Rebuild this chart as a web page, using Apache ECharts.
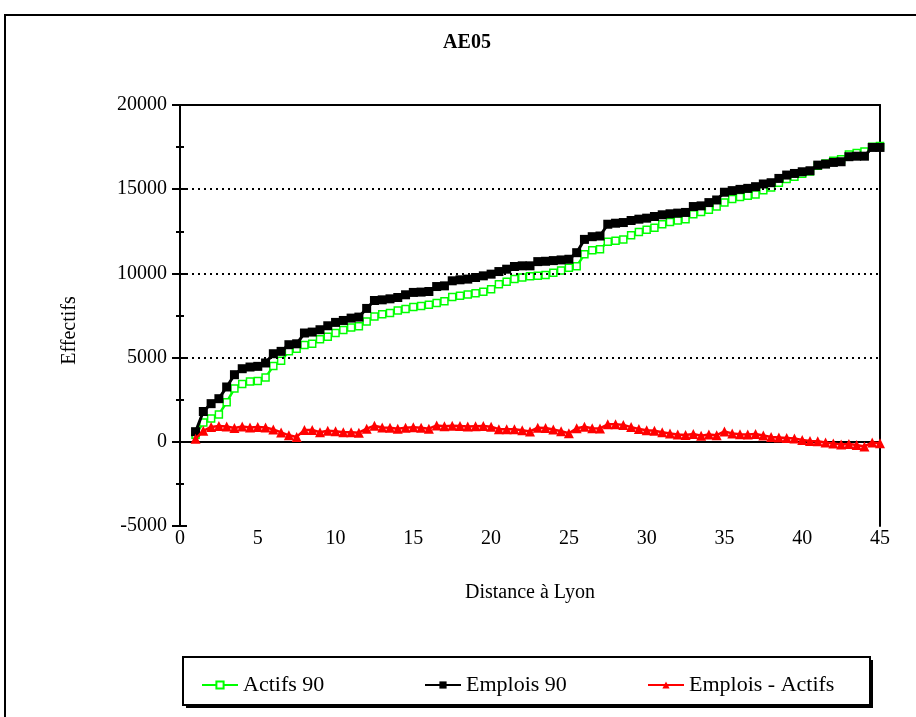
<!DOCTYPE html>
<html>
<head>
<meta charset="utf-8">
<title>AE05</title>
<script src="https://cdn.jsdelivr.net/npm/echarts@6/dist/echarts.min.js"></script>
<style>
  html, body { margin: 0; padding: 0; background: #fff; }
  #chart { width: 916px; height: 717px; }
</style>
</head>
<body>
<div id="chart"></div>
<script>
// Distance à Lyon (km), one point every half kilometre
const distances = [
  1, 1.5, 2, 2.5, 3, 3.5, 4, 4.5, 5, 5.5, 6, 6.5, 7, 7.5, 8, 8.5, 9, 9.5, 10, 10.5,
  11, 11.5, 12, 12.5, 13, 13.5, 14, 14.5, 15, 15.5, 16, 16.5, 17, 17.5, 18, 18.5, 19, 19.5, 20, 20.5,
  21, 21.5, 22, 22.5, 23, 23.5, 24, 24.5, 25, 25.5, 26, 26.5, 27, 27.5, 28, 28.5, 29, 29.5, 30, 30.5,
  31, 31.5, 32, 32.5, 33, 33.5, 34, 34.5, 35, 35.5, 36, 36.5, 37, 37.5, 38, 38.5, 39, 39.5, 40, 40.5,
  41, 41.5, 42, 42.5, 43, 43.5, 44, 44.5, 45
];

// Cumulative working residents (Actifs 90)
const actifs90 = [
  415, 1148, 1381, 1627, 2350, 3160, 3435, 3585, 3605, 3825, 4495, 4812, 5382, 5530, 5752, 5818, 6092, 6235, 6465, 6642,
  6785, 6862, 7142, 7438, 7575, 7650, 7790, 7890, 8000, 8058, 8145, 8248, 8340, 8600, 8678, 8748, 8825, 8915, 9065, 9360,
  9510, 9668, 9758, 9838, 9865, 9898, 10035, 10170, 10332, 10428, 11130, 11378, 11428, 11885, 11945, 12015, 12268, 12458, 12598, 12718,
  12915, 13046, 13146, 13216, 13512, 13651, 13774, 13970, 14206, 14415, 14539, 14612, 14690, 14938, 15102, 15380, 15608, 15738, 15922, 16050,
  16395, 16525, 16690, 16783, 17063, 17148, 17238, 17520, 17560
];

// Cumulative jobs (Emplois 90)
const emplois90 = [
  600, 1800, 2265, 2560, 3255, 3985, 4340, 4440, 4480, 4680, 5230, 5370, 5765, 5820, 6460, 6515, 6655, 6890, 7090, 7205,
  7345, 7405, 7920, 8390, 8430, 8490, 8570, 8730, 8870, 8890, 8925, 9220, 9260, 9560, 9620, 9660, 9755, 9855, 9955, 10110,
  10250, 10410, 10450, 10450, 10700, 10720, 10760, 10800, 10840, 11230, 12020, 12180, 12220, 12920, 12980, 13020, 13140, 13220, 13280, 13380,
  13480, 13540, 13580, 13620, 13970, 14010, 14205, 14360, 14820, 14915, 14990, 15050, 15150, 15310, 15385, 15640, 15840, 15935, 16035, 16095,
  16430, 16490, 16590, 16630, 16930, 16960, 16960, 17480, 17480
];

// Jobs minus working residents (Emplois - Actifs)
const emploisMoinsActifs = [
  185, 652, 884, 933, 905, 825, 905, 855, 875, 855, 735, 558, 383, 290, 708, 697, 563, 655, 625, 563,
  560, 543, 778, 952, 855, 840, 780, 840, 870, 832, 780, 972, 920, 960, 942, 912, 930, 940, 890, 750,
  740, 742, 692, 612, 835, 822, 725, 630, 508, 802, 890, 802, 792, 1035, 1035, 1005, 872, 762, 682, 662,
  565, 494, 434, 404, 458, 359, 431, 390, 614, 500, 451, 438, 460, 372, 283, 260, 232, 197, 113, 45,
  35, -35, -100, -153, -133, -188, -278, -40, -80
];

const seriesNames = ['Actifs 90', 'Emplois 90', 'Emplois - Actifs'];
const yTicks = { min: -5000, max: 20000, step: 5000 };
const xTicks = { min: 0, max: 45, step: 5 };
// Dotted horizontal guides drawn inside the plot
const dottedGuides = [5000, 10000, 15000];

const FONT = '"Liberation Serif", "Times New Roman", serif';

function pairs(values) {
  return distances.map((d, i) => [d, values[i]]);
}

const chart = echarts.init(document.getElementById('chart'), null, { renderer: 'canvas' });

const legendText = { fontFamily: FONT, fontSize: 22, color: '#000' };
function legendAt(name, left) {
  return {
    data: [name], left: left, top: 669, orient: 'horizontal',
    itemWidth: 36, itemHeight: 9, itemGap: 0, textStyle: legendText,
    selectedMode: false, z: 10
  };
}

const plainNumber = v => String(v);
const frameLine = { show: true, onZero: false, lineStyle: { color: '#000', width: 2 } };

chart.setOption({
  animation: false,
  backgroundColor: '#fff',
  grid: { left: 180, top: 105, width: 700, height: 421, containLabel: false },
  graphic: [
    { type: 'rect', z: 0, shape: { x: 5, y: 15, width: 1000, height: 1000 },
      style: { fill: 'none', stroke: '#000', lineWidth: 2 } },
    { type: 'text', z: 5, x: 467, y: 43,
      style: { text: 'AE05', font: 'bold 20px ' + FONT, fill: '#000', textAlign: 'center', textVerticalAlign: 'middle' } },
    // legend frame: offset shadow block, then the framed box
    { type: 'rect', z: 1, shape: { x: 186, y: 660, width: 687, height: 48 },
      style: { fill: '#000', stroke: 'none' } },
    { type: 'rect', z: 2, shape: { x: 183, y: 657, width: 687, height: 48 },
      style: { fill: '#fff', stroke: '#000', lineWidth: 2 } }
  ],
  legend: [
    legendAt(seriesNames[0], 196),
    legendAt(seriesNames[1], 419),
    legendAt(seriesNames[2], 642)
  ],
  xAxis: [
    {
      type: 'value', min: xTicks.min, max: xTicks.max, interval: xTicks.step,
      axisLine: { show: false }, axisTick: { show: false }, splitLine: { show: false },
      axisLabel: { fontFamily: FONT, fontSize: 20, color: '#000', margin: 3, formatter: plainNumber },
      name: 'Distance à Lyon', nameLocation: 'middle', nameGap: 57,
      nameTextStyle: { fontFamily: FONT, fontSize: 20, color: '#000' }
    },
    {
      type: 'value', position: 'top', min: xTicks.min, max: xTicks.max, interval: xTicks.step,
      axisLine: frameLine,
      axisTick: { show: false }, axisLabel: { show: false }, splitLine: { show: false }
    }
  ],
  yAxis: [
    {
      type: 'value', min: yTicks.min, max: yTicks.max, interval: yTicks.step,
      axisLine: frameLine,
      axisTick: { show: true, inside: false, length: 8, lineStyle: { color: '#000', width: 2 } },
      minorTick: { show: true, splitNumber: 2, length: 4, lineStyle: { color: '#000', width: 2 } },
      axisLabel: { fontFamily: FONT, fontSize: 20, color: '#000', margin: 13, formatter: plainNumber },
      splitLine: { show: false },
      name: 'Effectifs', nameLocation: 'middle', nameGap: 100, nameRotate: 90,
      nameTextStyle: { fontFamily: FONT, fontSize: 20, color: '#000', padding: [0, 30, 0, 0] }
    },
    {
      type: 'value', position: 'left', min: yTicks.min, max: yTicks.max, interval: yTicks.step,
      axisLine: { show: false, onZero: false },
      axisTick: { show: true, inside: true, length: 7, lineStyle: { color: '#000', width: 2 } },
      minorTick: { show: true, splitNumber: 2, length: 4, lineStyle: { color: '#000', width: 2 } },
      axisLabel: { show: false }, splitLine: { show: false }
    },
    {
      type: 'value', position: 'right', min: yTicks.min, max: yTicks.max, interval: yTicks.step,
      axisLine: frameLine,
      axisTick: { show: false }, axisLabel: { show: false }, splitLine: { show: false }
    }
  ],
  series: [
    {
      name: seriesNames[0], type: 'line', data: pairs(actifs90),
      symbol: 'rect', symbolSize: 7,
      itemStyle: { color: '#fff', borderColor: '#00ff00', borderWidth: 1.5 },
      lineStyle: { color: '#00ff00', width: 2.5 },
      z: 3,
      markLine: {
        silent: true, symbol: 'none', label: { show: false },
        data: [
          { yAxis: 0, lineStyle: { color: '#000', type: 'solid', width: 2 } }
        ].concat(dottedGuides.map(v => ({
          yAxis: v, lineStyle: { color: '#000', type: [2, 4], width: 2 }
        })))
      }
    },
    {
      name: seriesNames[1], type: 'line', data: pairs(emplois90),
      symbol: 'rect', symbolSize: 9,
      itemStyle: { color: '#000' },
      lineStyle: { color: '#000', width: 3 },
      z: 4
    },
    {
      name: seriesNames[2], type: 'line', data: pairs(emploisMoinsActifs),
      symbol: 'triangle', symbolSize: 10,
      itemStyle: { color: '#ff0000' },
      lineStyle: { color: '#ff0000', width: 2.5 },
      z: 5
    }
  ]
});
</script>
</body>
</html>
